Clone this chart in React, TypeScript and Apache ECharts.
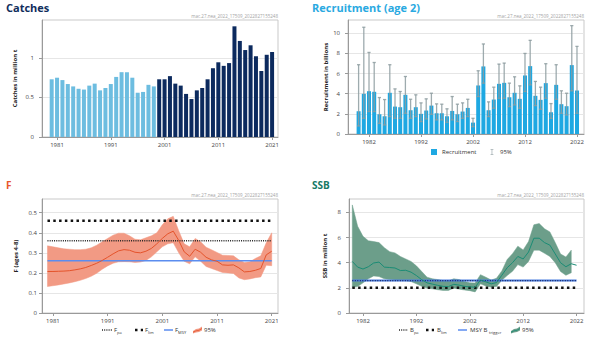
import React, { useEffect, useRef } from 'react';
import * as echarts from 'echarts';

// ---------- Catches ----------
const catchYears = [1980,1981,1982,1983,1984,1985,1986,1987,1988,1989,1990,1991,1992,1993,1994,1995,1996,1997,1998,1999,2000,2001,2002,2003,2004,2005,2006,2007,2008,2009,2010,2011,2012,2013,2014,2015,2016,2017,2018,2019,2020,2021];
const catches = [0.73,0.75,0.72,0.67,0.64,0.61,0.60,0.65,0.675,0.59,0.62,0.67,0.76,0.82,0.82,0.75,0.56,0.57,0.66,0.64,0.73,0.73,0.77,0.675,0.65,0.545,0.48,0.59,0.62,0.73,0.87,0.945,0.90,0.935,1.40,1.215,1.10,1.16,1.02,0.835,1.04,1.075];
const catchSplitYear = 2000;

// ---------- Recruitment ----------
const recYears = [1980,1981,1982,1983,1984,1985,1986,1987,1988,1989,1990,1991,1992,1993,1994,1995,1996,1997,1998,1999,2000,2001,2002,2003,2004,2005,2006,2007,2008,2009,2010,2011,2012,2013,2014,2015,2016,2017,2018,2019,2020,2021,2022];
const recruitment = [2.26,3.99,4.25,4.19,1.96,1.76,4.09,2.72,2.66,3.89,2.36,2.66,2.00,2.33,2.82,2.06,2.06,1.76,2.29,1.96,2.23,2.59,1.13,4.82,6.71,2.36,3.42,4.98,5.08,3.65,4.09,3.49,5.81,6.74,3.79,3.39,5.05,2.16,4.88,2.96,2.76,6.84,4.32];
const recLow = [0.8,1.56,2.23,2.23,1.06,0.9,1.73,1.56,1.56,2.06,1.56,1.73,1.23,1.5,1.96,1.4,1.4,1.16,1.4,1.23,1.56,1.73,0.73,3.72,5.05,1.73,2.56,3.55,3.55,2.72,2.89,2.56,4.22,4.88,2.82,2.46,3.55,1.56,3.45,2.06,1.89,4.29,2.06];
const recHigh = [6.88,10.6,8.1,7.1,3.62,3.42,6.88,4.48,4.22,5.71,3.45,3.89,3.09,3.49,4.05,2.99,2.96,2.5,3.72,2.96,3.09,3.45,1.56,6.28,8.94,3.19,4.65,6.94,7.04,5.05,5.68,4.78,8.0,9.3,5.22,4.65,6.98,3.02,6.88,4.29,4.05,10.76,8.7];

// ---------- F ----------
const fYears = [1980,1981,1982,1983,1984,1985,1986,1987,1988,1989,1990,1991,1992,1993,1994,1995,1996,1997,1998,1999,2000,2001,2002,2003,2004,2005,2006,2007,2008,2009,2010,2011,2012,2013,2014,2015,2016,2017,2018,2019,2020,2021];
const fMedian = [0.207,0.207,0.208,0.209,0.211,0.215,0.220,0.227,0.237,0.248,0.262,0.278,0.295,0.310,0.316,0.313,0.303,0.300,0.308,0.322,0.345,0.372,0.395,0.408,0.362,0.305,0.283,0.318,0.303,0.278,0.265,0.258,0.240,0.238,0.240,0.225,0.205,0.207,0.213,0.222,0.290,0.308];
const fLow = [0.132,0.136,0.140,0.145,0.150,0.156,0.163,0.172,0.183,0.198,0.218,0.235,0.248,0.255,0.256,0.255,0.252,0.254,0.262,0.280,0.305,0.330,0.345,0.350,0.300,0.258,0.245,0.280,0.258,0.232,0.222,0.212,0.202,0.200,0.197,0.175,0.166,0.170,0.176,0.180,0.238,0.236];
const fHigh = [0.335,0.330,0.325,0.320,0.318,0.316,0.316,0.318,0.325,0.338,0.355,0.372,0.388,0.398,0.398,0.385,0.368,0.365,0.375,0.385,0.400,0.440,0.470,0.482,0.410,0.345,0.330,0.372,0.355,0.328,0.315,0.302,0.288,0.287,0.285,0.265,0.252,0.255,0.272,0.285,0.350,0.400];
const fRefs = { Fpa: 0.36, Flim: 0.46, Fmsy: 0.26 };

// ---------- SSB ----------
const ssbYears = [1980,1981,1982,1983,1984,1985,1986,1987,1988,1989,1990,1991,1992,1993,1994,1995,1996,1997,1998,1999,2000,2001,2002,2003,2004,2005,2006,2007,2008,2009,2010,2011,2012,2013,2014,2015,2016,2017,2018,2019,2020,2021,2022];
const ssbMedian = [4.10,3.65,3.50,3.68,3.98,4.05,3.65,3.62,3.58,3.38,3.40,3.25,2.98,2.65,2.40,2.30,2.20,2.12,2.10,2.28,2.22,2.12,2.08,2.05,2.62,2.48,2.32,2.42,3.00,3.60,4.00,4.50,4.30,4.85,5.95,5.95,5.60,5.40,4.70,4.00,3.68,3.92,3.80];
const ssbBandYears = [1980,1981,1982,1983,1984,1985,1986,1987,1988,1989,1990,1991,1992,1993,1994,1995,1996,1997,1998,1999,2000,2001,2002,2003,2004,2005,2006,2007,2008,2009,2010,2011,2012,2013,2014,2015,2016,2017,2018,2019,2020,2021];
const ssbLow = [2.02,2.10,2.40,2.72,2.95,2.90,2.72,2.66,2.63,2.58,2.58,2.50,2.32,2.12,1.98,1.92,1.85,1.80,1.80,1.98,1.90,1.83,1.78,1.68,2.32,2.15,2.05,2.10,2.60,2.98,3.32,3.85,3.65,4.10,5.00,5.00,4.75,4.50,4.00,3.30,3.00,3.20];
const ssbHigh = [8.60,6.90,6.10,5.75,5.68,5.60,5.20,4.88,4.78,4.50,4.30,4.10,3.75,3.30,2.85,2.72,2.66,2.58,2.56,2.72,2.66,2.50,2.40,2.38,3.05,2.85,2.62,2.76,3.35,4.25,4.72,5.32,5.02,5.68,7.02,7.12,6.70,6.45,5.60,4.70,4.45,5.00];
const ssbRefs = { Bpa: 2.58, Blim: 2.0, Btrigger: 2.58 };

// ---------- tick labels ----------
const catchTicksX = [1981, 1991, 2001, 2011, 2021];
const recTicksX = [1982, 1992, 2002, 2012, 2022];
const fTicksX = [1981, 1991, 2001, 2011, 2021];
const ssbTicksX = [1982, 1992, 2002, 2012, 2022];
const catchTicksY = [0, 0.5, 1];
const recTicksY = [0, 2, 4, 6, 8, 10];
const fTicksY = [0, 0.1, 0.2, 0.3, 0.4, 0.5];
const ssbTicksY = [0, 2, 4, 6, 8];

const watermark = 'mac.27.nea_2022_17509_2022827155248';

const C = {
  catchLight: '#6dbde0',
  catchDark: '#0c2a5e',
  rec: '#1ea8e2',
  err: '#8d9ca0',
  fBand: '#f29a84',
  fLine: '#e4542c',
  msy: '#5b8def',
  msyB: '#4a7fe0',
  ssbBand: '#6c9e8a',
  ssbLine: '#1b8c75',
  grid: '#e6e6e6',
  frame: '#c9c9c9',
  axis: '#9a9a9a',
  label: '#444',
};

const dotted = { color: '#222', width: 1.5, type: [1, 1.2] };
const squares = { color: '#111', width: 2.5, type: [2.5, 3.3] };

function xAxisCfg(gridIndex: number, min: number, max: number, ticks: number[]) {
  return {
    type: 'value', gridIndex, min, max,
    axisLine: { show: true, onZero: false, lineStyle: { color: C.axis } },
    axisTick: { show: true, length: 3, customValues: ticks, lineStyle: { color: C.axis } },
    axisLabel: { customValues: ticks, fontSize: 6, color: C.label, margin: 5, formatter: (v: number) => String(v) },
    splitLine: { show: false },
  };
}

function yAxisCfg(gridIndex: number, max: number, interval: number, ticks: number[], name: string, nameGap: number, margin: number) {
  return {
    type: 'value', gridIndex, min: 0, max, interval,
    name, nameLocation: 'middle', nameGap,
    nameTextStyle: { fontSize: 6, fontWeight: 'bold', color: '#222' },
    axisLine: { show: true, onZero: false, lineStyle: { color: C.axis } },
    axisTick: { show: true, length: 3, customValues: ticks, lineStyle: { color: C.axis } },
    axisLabel: { customValues: ticks, fontSize: 6, color: C.label, margin, formatter: (v: number) => String(v) },
    splitLine: { show: true, lineStyle: { color: C.grid, width: 1 } },
  };
}

function refLine(name: string, xi: number, x0: number, x1: number, v: number, lineStyle: any, z: number) {
  return {
    name, type: 'line', xAxisIndex: xi, yAxisIndex: xi, symbol: 'none', silent: true, z,
    data: [[x0, v], [x1, v]], lineStyle, itemStyle: { color: lineStyle.color },
  };
}

function bandSeries(xi: number, years: number[], lo: number[], hi: number[], fill: string) {
  return {
    type: 'custom', xAxisIndex: xi, yAxisIndex: xi, z: 1, silent: true,
    data: years.map((y, i) => [y, lo[i], hi[i]]),
    encode: { x: 0, y: [1, 2] },
    renderItem: (params: any, api: any) => {
      if (params.dataIndex !== 0) return { type: 'group', children: [] };
      const upper = years.map((y, i) => api.coord([y, hi[i]]));
      const lower = years.map((y, i) => api.coord([y, lo[i]])).reverse();
      return {
        type: 'polygon',
        shape: { points: upper.concat(lower) },
        style: { fill, stroke: fill, lineWidth: 0.5 },
      };
    },
  };
}

const rich = {
  m: { fontSize: 6, color: '#333', fontFamily: 'Open Sans' },
  s: { fontSize: 4, color: '#333', fontFamily: 'Open Sans', padding: [4, 0, 0, 0] },
};

function gText(x: number, y: number, text: string) {
  return { type: 'text', x, y, silent: true, style: { text, rich, fontSize: 6, fill: '#333', fontFamily: 'Open Sans', verticalAlign: 'middle', align: 'left' } };
}
function gLine(x1: number, x2: number, y: number, stroke: string, lineWidth: number, lineDash?: number[]) {
  return { type: 'line', silent: true, shape: { x1, y1: y, x2, y2: y }, style: { stroke, lineWidth, lineDash } };
}
function gBandIcon(x: number, y: number, fill: string, line: string) {
  return [
    { type: 'polygon', silent: true, shape: { points: [[x, y + 1], [x + 3, y - 1], [x + 6, y - 1.5], [x + 9, y - 3.5], [x + 9, y + 0.5], [x + 6, y + 2], [x + 3, y + 2.5], [x, y + 3.5]] }, style: { fill } },
    { type: 'polyline', silent: true, shape: { points: [[x, y + 2.2], [x + 3, y + 0.8], [x + 6, y + 0.3], [x + 9, y - 1.5]] }, style: { stroke: line, lineWidth: 0.8, fill: null } },
  ];
}

const errIcon = 'path://M0,0 L5,0 L5,1 L3,1 L3,9 L5,9 L5,10 L0,10 L0,9 L2,9 L2,1 L0,1 Z';

function buildOption() {
  const catchData = catchYears.map((y, i) => ({
    value: [y, catches[i]],
    itemStyle: { color: y < catchSplitYear ? C.catchLight : C.catchDark },
  }));
  const recData = recYears.map((y, i) => [y, recruitment[i]]);
  const errData = recYears.map((y, i) => [y, recLow[i], recHigh[i]]);
  const fMedData = fYears.map((y, i) => [y, fMedian[i]]);
  const sMedData = ssbYears.map((y, i) => [y, ssbMedian[i]]);

  const fFirst = fYears[0], fLast = fYears[fYears.length - 1];
  const sFirst = ssbYears[0], sLast = ssbYears[ssbYears.length - 1];

  const titleStyle = (color: string, size: number) => ({ fontSize: size, fontWeight: 'bold', color, fontFamily: 'Open Sans' });
  const wm = (x: number, y: number) => ({ type: 'text', x, y, silent: true, style: { text: watermark, fontSize: 4.5, fontFamily: 'Open Sans', fill: '#a3a3a3', align: 'right', verticalAlign: 'middle' } });

  const ly = 330;
  const sy = 330;

  return {
    animation: false,
    backgroundColor: '#ffffff',
    textStyle: { fontFamily: 'Open Sans' },
    title: [
      { text: 'Catches', left: 6, top: 2, padding: 0, textStyle: titleStyle('#102d5c', 11) },
      { text: 'Recruitment (age 2)', left: 312, top: 2, padding: 0, textStyle: titleStyle('#29a9e1', 11) },
      { text: 'F', left: 6, top: 180, padding: 0, textStyle: titleStyle('#e8562a', 10) },
      { text: 'SSB', left: 312, top: 180, padding: 0, textStyle: titleStyle('#167a65', 10) },
    ],
    grid: [
      { left: 42, top: 20, width: 236, height: 117, show: true, borderColor: C.frame, borderWidth: 1 },
      { left: 348, top: 20, width: 236, height: 114, show: true, borderColor: C.frame, borderWidth: 1 },
      { left: 42, top: 199, width: 236, height: 114, show: true, borderColor: C.frame, borderWidth: 1 },
      { left: 349, top: 199, width: 235, height: 114, show: true, borderColor: C.frame, borderWidth: 1 },
    ],
    xAxis: [
      xAxisCfg(0, 1978.2, 2022.1, catchTicksX),
      xAxisCfg(1, 1977.96, 2023.35, recTicksX),
      xAxisCfg(2, 1979.0, 2022.15, fTicksX),
      xAxisCfg(3, 1979.38, 2023.39, ssbTicksX),
    ],
    yAxis: [
      yAxisCfg(0, 1.48, 0.5, catchTicksY, 'Catches in million t', 24, 8),
      yAxisCfg(1, 11.32, 2, recTicksY, 'Recruitment in billions', 19, 8),
      yAxisCfg(2, 0.5685, 0.1, fTicksY, 'F (ages 4-8)', 23, 5),
      yAxisCfg(3, 9.07, 2, ssbTicksY, 'SSB in million t', 21, 8),
    ],
    legend: [
      {
        left: 431, top: 149, itemWidth: 6, itemHeight: 6, itemGap: 14, padding: 0,
        textStyle: { fontSize: 6, color: '#333' },
        formatter: (n: string) => (n === 'R95' ? '95%' : n),
        data: [{ name: 'Recruitment', icon: 'rect' }, { name: 'R95', icon: errIcon, itemStyle: { color: C.err } }],
      },
    ],
    series: [
      // Catches
      { type: 'bar', name: 'Catches', xAxisIndex: 0, yAxisIndex: 0, barWidth: 4, data: catchData },
      // Recruitment
      { type: 'bar', name: 'Recruitment', xAxisIndex: 1, yAxisIndex: 1, barWidth: 4, itemStyle: { color: C.rec }, data: recData, z: 2 },
      {
        type: 'custom', name: 'R95', xAxisIndex: 1, yAxisIndex: 1, z: 3,
        itemStyle: { color: C.err },
        encode: { x: 0, y: [1, 2] },
        data: errData,
        renderItem: (params: any, api: any) => {
          const x = api.value(0);
          const lo = api.coord([x, api.value(1)]);
          const hi = api.coord([x, api.value(2)]);
          const cw = 1.6;
          const st = () => ({ stroke: C.err, lineWidth: 1.3, opacity: 0.85 });
          return {
            type: 'group',
            children: [
              { type: 'line', shape: { x1: hi[0], y1: hi[1], x2: lo[0], y2: lo[1] }, style: st() },
              { type: 'line', shape: { x1: hi[0] - cw, y1: hi[1], x2: hi[0] + cw, y2: hi[1] }, style: st() },
              { type: 'line', shape: { x1: lo[0] - cw, y1: lo[1], x2: lo[0] + cw, y2: lo[1] }, style: st() },
            ],
          };
        },
      },
      // F
      bandSeries(2, fYears, fLow, fHigh, C.fBand),
      refLine('Fpa', 2, fFirst, fLast, fRefs.Fpa, dotted, 2),
      refLine('Flim', 2, fFirst, fLast, fRefs.Flim, squares, 2),
      refLine('Fmsy', 2, fFirst, fLast, fRefs.Fmsy, { color: C.msy, width: 1.5 }, 2),
      {
        type: 'line', name: 'Fmedian', xAxisIndex: 2, yAxisIndex: 2, symbol: 'none', z: 3,
        lineStyle: { color: C.fLine, width: 1 }, itemStyle: { color: C.fLine }, data: fMedData,
      },
      // SSB
      bandSeries(3, ssbBandYears, ssbLow, ssbHigh, C.ssbBand),
      refLine('Btrigger', 3, sFirst, sLast, ssbRefs.Btrigger, { color: C.msyB, width: 2 }, 2),
      refLine('Bpa', 3, sFirst, sLast, ssbRefs.Bpa, { color: '#1a2560', width: 1.2, type: [1, 1.5] }, 2),
      refLine('Blim', 3, sFirst, sLast, ssbRefs.Blim, squares, 2),
      {
        type: 'line', name: 'SSBmedian', xAxisIndex: 3, yAxisIndex: 3, symbol: 'none', z: 3,
        lineStyle: { color: C.ssbLine, width: 1 }, itemStyle: { color: C.ssbLine }, data: sMedData,
      },
    ],
    graphic: [
      wm(278, 16), wm(584, 16), wm(278, 195), wm(584, 195),
      // F legend
      gLine(102, 112, ly, '#222', 1.5, [1, 1.2]),
      gText(114, ly, '{m|F}{s|pa}'),
      gLine(135, 143, ly, '#111', 2.5, [2.5, 3.3]),
      gText(145, ly, '{m|F}{s|lim}'),
      gLine(164, 173, ly, C.msy, 1.5),
      gText(175, ly, '{m|F}{s|MSY}'),
      ...gBandIcon(193, ly, C.fBand, C.fLine),
      gText(204, ly, '95%'),
      // SSB legend
      gLine(399, 408, sy, '#222', 1.5, [1, 1.2]),
      gText(410, sy, '{m|B}{s|pa}'),
      gLine(426, 434, sy, '#111', 2.5, [2.5, 3.3]),
      gText(437, sy, '{m|B}{s|lim}'),
      gLine(458, 467, sy, C.msy, 1.5),
      gText(470, sy, '{m|MSY B }{s|trigger}'),
      ...gBandIcon(511, sy, C.ssbBand, C.ssbLine),
      gText(522, sy, '95%'),
    ],
  };
}

export default function App() {
  const ref = useRef<HTMLDivElement | null>(null);
  useEffect(() => {
    if (!ref.current) return;
    const chart = echarts.init(ref.current, undefined, { renderer: 'svg' });
    chart.setOption(buildOption() as any);
    return () => chart.dispose();
  }, []);
  return (
    <div
      ref={ref}
      style={{ position: 'absolute', left: 0, top: 0, width: 602, height: 339, background: '#fff' }}
    />
  );
}
